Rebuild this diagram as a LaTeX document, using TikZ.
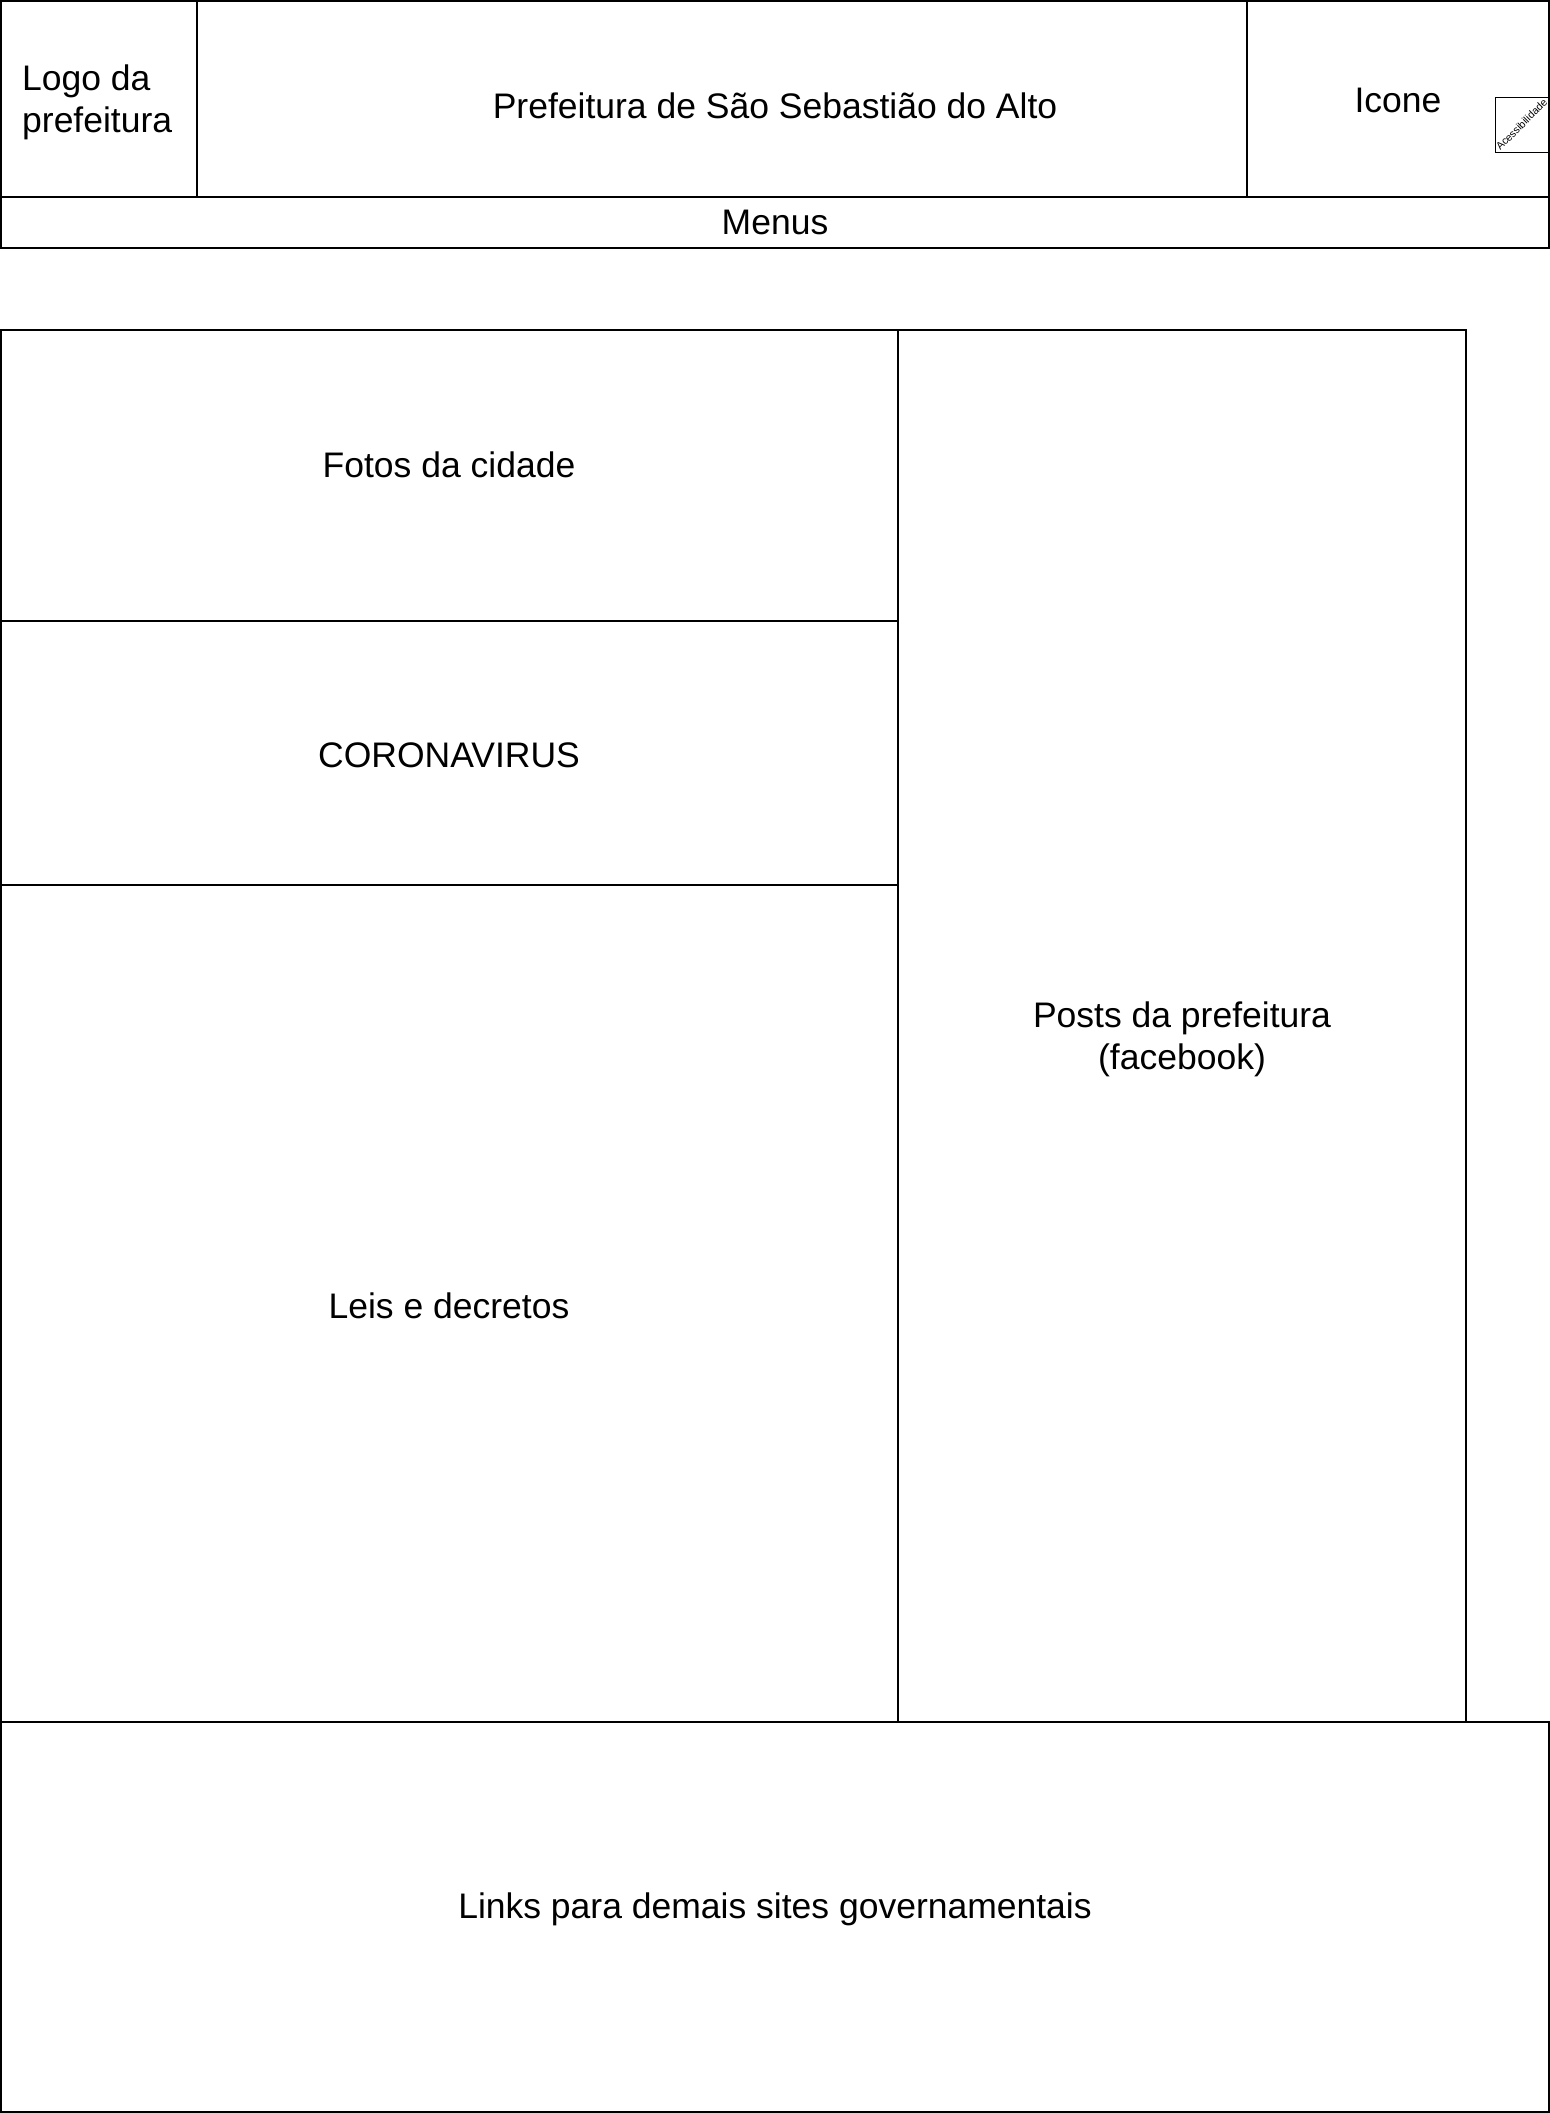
\documentclass[tikz,border=0pt]{standalone}
\usepackage{fontspec}
\setmainfont{Liberation Sans}
\begin{document}
\begin{tikzpicture}[x=1pt,y=-1pt,
  box/.style={draw, line width=1.6pt, inner sep=0pt, outer sep=0pt, anchor=north west},
  lbl/.style={font=\fontsize{35.5}{42}\selectfont, align=center, inner sep=0pt},
  tiny/.style={font=\fontsize{10.5}{12}\selectfont, inner sep=0pt}]
\useasboundingbox (0,0) rectangle (1550,2113);
% header
\node[box, minimum width=1548pt, minimum height=196pt] (header) at (1,1) {};
\node[box, minimum width=196pt, minimum height=196pt] (logo) at (1,1) {};
\node[box, minimum width=302pt, minimum height=196pt] (icon) at (1247,1) {};
\node[box, minimum width=1548pt, minimum height=51pt] (menu) at (1,197) {};
\node[box, line width=1pt, minimum width=54pt, minimum height=55pt] (acess) at (1495,97) {};
\node[lbl] (htitle) at (775,106) {Prefeitura de São Sebastião do Alto};
\node[lbl, align=left, anchor=west] (logot) at (22,102) {Logo da\\prefeitura};
\node[lbl] (icont) at (1398,100) {Icone};
\node[tiny, rotate=45] (acesst) at ([xshift=-0.5pt]acess.center) {Acessibilidade};
\node[lbl] (menut) at (menu.center) {Menus};
% main
\node[box, minimum width=897pt, minimum height=291pt] (fotos) at (1,330) {};
\node[box, minimum width=897pt, minimum height=264pt] (corona) at (1,621) {};
\node[box, minimum width=897pt, minimum height=837pt] (leis) at (1,885) {};
\node[box, minimum width=568pt, minimum height=1392pt] (posts) at (898,330) {};
\node[box, minimum width=1548pt, minimum height=390pt] (links) at (1,1722) {};
\node[lbl] (fotost) at (449,465) {Fotos da cidade};
\node[lbl] (coronat) at (449,755) {CORONAVIRUS};
\node[lbl] (leist) at (449,1306) {Leis e decretos};
\node[lbl] (postst) at (1182,1039) {Posts da prefeitura\\(facebook)};
\node[lbl] (linkst) at (775,1909) {Links para demais sites governamentais};
\end{tikzpicture}
\end{document}
